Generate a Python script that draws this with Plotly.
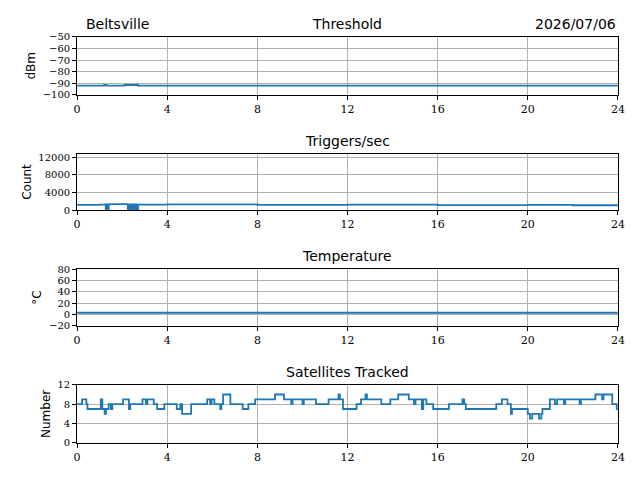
import plotly.graph_objects as go

# Satellites tracked: change times (hours) and values
sat_t = [0, 0.22, 0.41, 0.46, 1.05, 1.12, 1.22, 1.28, 1.4, 1.5, 1.56, 2.04, 2.3, 2.36, 2.44,
         2.9, 3.05, 3.12, 3.4, 3.55, 3.87, 4.42, 4.58, 4.66, 5.06, 5.77, 5.9, 5.97, 6.09,
         6.35, 6.4, 6.48, 6.8, 7.35, 7.6, 7.9, 8.3, 8.78, 9.18, 9.5, 9.56, 10.0, 10.06,
         10.6, 11.16, 11.6, 11.66, 11.8, 12.4, 12.6, 12.8, 12.86, 13.5, 13.9, 14.25, 14.72,
         14.95, 15.02, 15.3, 15.36, 15.5, 15.8, 16.5, 17.1, 17.18, 17.25, 18.2, 18.6, 18.85,
         19.1, 19.25, 19.3, 20.0, 20.1, 20.2, 20.5, 20.6, 20.65, 20.98, 21.2, 21.3, 21.6,
         21.66, 21.85, 22.3, 22.36, 23.0, 23.3, 23.36, 23.75, 23.95, 24.0]
sat_v = [8, 9, 8, 7, 9, 7, 6, 7, 8, 7, 8, 9, 7, 8, 8,
         9, 8, 9, 8, 7, 8, 7, 8, 6, 8, 9, 8, 9, 8,
         7, 8, 10, 8, 7, 8, 9, 9, 10, 9, 8, 9, 8, 9,
         8, 9, 10, 9, 7, 8, 9, 10, 9, 8, 9, 10, 9,
         8, 9, 7, 9, 8, 7, 8, 9, 8, 7, 7, 8, 9,
         8, 6, 7, 6, 5, 6, 5, 6, 7, 9, 8, 9, 8,
         9, 9, 8, 9, 10, 9, 10, 8, 7, 7]

# Threshold (dBm)
thr_t = [0, 1.2, 1.3, 2.1, 2.7, 24]
thr_v = [-92, -91.5, -92, -91.5, -92, -92]

# Triggers/sec
trig_t = [0, 1.0, 1.25, 1.27, 1.32, 1.34, 1.4, 1.45, 2.2, 2.25, 2.3, 2.35, 2.4, 2.45, 2.5,
          2.55, 2.6, 2.65, 2.7, 4, 8, 12, 16, 20, 22, 24]
trig_v = [1200, 1250, 1300, 0, 1300, 0, 1300, 1350, 1300, 0, 1300, 0, 1300, 0, 1300,
          0, 1300, 0, 1250, 1300, 1200, 1250, 1150, 1200, 1100, 1100]

# Temperature (C)
temp_t = [0, 24]
temp_v = [3, 3]

blue = "#1f77b4"
serif = "DejaVu Serif"
sans = "DejaVu Sans"

fig = go.Figure()
panels = [
    (thr_t, thr_v, [-100, -50], [-100, -90, -80, -70, -60, -50], "dBm", [0.819, 0.940]),
    (trig_t, trig_v, [0, 12800], [0, 4000, 8000, 12000], "Count", [0.579, 0.696]),
    (temp_t, temp_v, [-20, 80], [-20, 0, 20, 40, 60, 80], "°C", [0.338, 0.456]),
    (sat_t, sat_v, [0, 12], [0, 4, 8, 12], "Number", [0.094, 0.215]),
]
titles = ["Threshold", "Triggers/sec", "Temperature", "Satellites Tracked"]

layout = {}
for i, (t, v, yr, yt, ylab, dom) in enumerate(panels):
    n = "" if i == 0 else str(i + 1)
    fig.add_trace(go.Scatter(x=t, y=v, mode="lines", line=dict(color=blue, width=1.8, shape="hv"),
                             xaxis="x" + n, yaxis="y" + n, showlegend=False))
    common = dict(showline=True, linecolor="black", linewidth=1, mirror=True, ticks="outside",
                  ticklen=4, tickcolor="black", showgrid=True, gridcolor="#b0b0b0",
                  zeroline=False, automargin=False)
    layout["xaxis" + n] = dict(domain=[0.108, 0.953], range=[0, 24], tickvals=[0, 4, 8, 12, 16, 20, 24],
                               anchor="y" + n, tickfont=dict(family=serif, size=11, color="black"), **common)
    layout["yaxis" + n] = dict(domain=dom, range=yr, tickvals=yt, anchor="x" + n,
                               tickfont=dict(family=serif, size=10, color="black"),
                               tickformat="d", title=dict(text=ylab, font=dict(family=sans, size=12), standoff=4),
                               **common)

ann = []
for i, ttl in enumerate(titles):
    dom = panels[i][5]
    ann.append(dict(text=ttl, x=0.530, y=dom[1] + 0.006, xref="paper", yref="paper",
                    xanchor="center", yanchor="bottom", showarrow=False, font=dict(family=sans, size=14)))
ann.append(dict(text="Beltsville", x=0.118, y=0.946, xref="paper", yref="paper", xanchor="left",
                yanchor="bottom", showarrow=False, font=dict(family=sans, size=14)))
ann.append(dict(text="2026/07/06", x=0.953, y=0.946, xref="paper", yref="paper", xanchor="right",
                yanchor="bottom", showarrow=False, font=dict(family=sans, size=14)))

fig.update_layout(width=640, height=480, margin=dict(l=0, r=0, t=0, b=0), plot_bgcolor="white",
                  paper_bgcolor="white", annotations=ann, font=dict(family=sans, color="black"), **layout)
fig.write_html("out.html")
